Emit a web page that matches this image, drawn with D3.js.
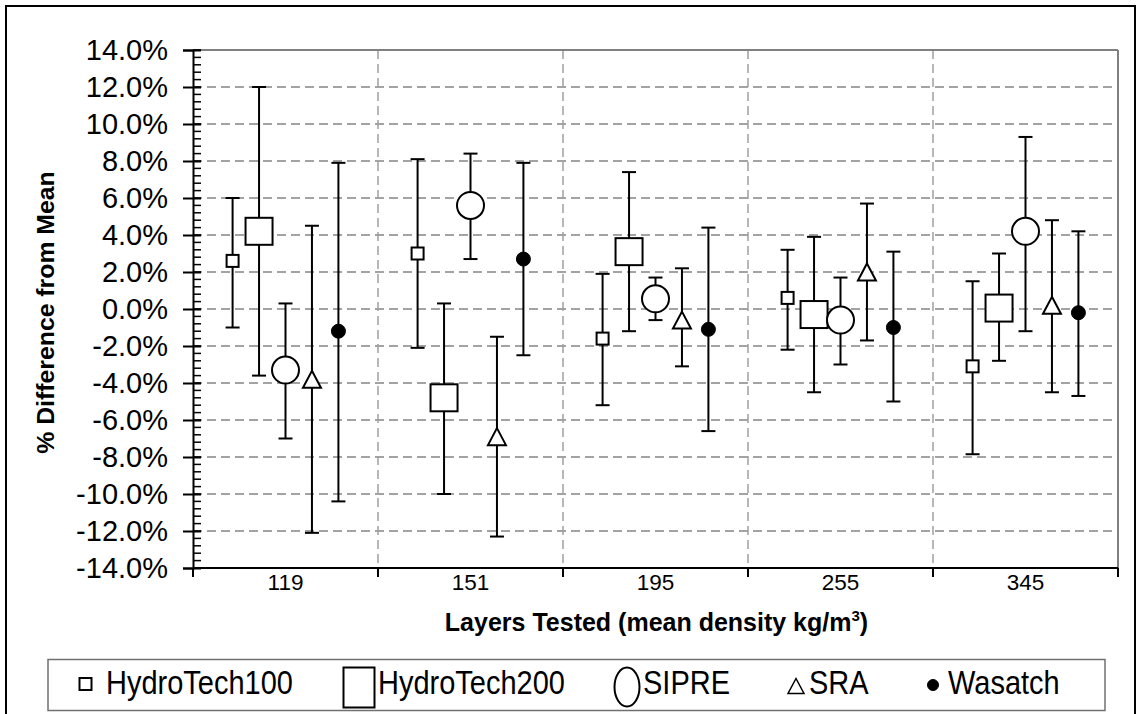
<!DOCTYPE html>
<html>
<head>
<meta charset="utf-8">
<script src="https://cdn.jsdelivr.net/npm/d3@7/dist/d3.min.js"></script>
<style>
  html, body { margin: 0; padding: 0; background: #fff; }
  svg { display: block; font-family: "Liberation Sans", Arial, sans-serif; }
</style>
</head>
<body>
<svg id="chart" width="1138" height="714"></svg>
<script>
// ---------- data ----------
const categories = ["119", "151", "195", "255", "345"];
const seriesNames = ["HydroTech100", "HydroTech200", "SIPRE", "SRA", "Wasatch"];

const ht100Mean = [2.6, 3.0, -1.6, 0.6, -3.1];
const ht100Hi   = [6.0, 8.1, 1.9, 3.2, 1.5];
const ht100Lo   = [-1.0, -2.1, -5.2, -2.2, -7.85];

const ht200Mean = [4.2, -4.8, 3.1, -0.3, 0.05];
const ht200Hi   = [12.0, 0.3, 7.4, 3.9, 3.0];
const ht200Lo   = [-3.6, -10.0, -1.2, -4.5, -2.8];

const sipreMean = [-3.3, 5.6, 0.55, -0.6, 4.2];
const sipreHi   = [0.3, 8.4, 1.7, 1.7, 9.3];
const sipreLo   = [-7.0, 2.7, -0.6, -3.0, -1.2];

const sraMean = [-3.8, -6.9, -0.6, 2.0, 0.2];
const sraHi   = [4.5, -1.5, 2.2, 5.7, 4.8];
const sraLo   = [-12.1, -12.3, -3.1, -1.7, -4.5];

const wasMean = [-1.2, 2.7, -1.1, -1.0, -0.2];
const wasHi   = [7.9, 7.9, 4.4, 3.1, 4.2];
const wasLo   = [-10.4, -2.5, -6.6, -5.0, -4.7];

const yTickValues = [-14, -12, -10, -8, -6, -4, -2, 0, 2, 4, 6, 8, 10, 12, 14];

const seriesData = [
  { name: seriesNames[0], mean: ht100Mean, hi: ht100Hi, lo: ht100Lo, shape: "smallSquare" },
  { name: seriesNames[1], mean: ht200Mean, hi: ht200Hi, lo: ht200Lo, shape: "bigSquare" },
  { name: seriesNames[2], mean: sipreMean, hi: sipreHi, lo: sipreLo, shape: "circle" },
  { name: seriesNames[3], mean: sraMean,   hi: sraHi,   lo: sraLo,   shape: "triangle" },
  { name: seriesNames[4], mean: wasMean,   hi: wasHi,   lo: wasLo,   shape: "dot" }
];

// ---------- layout ----------
const svg = d3.select("#chart");
const plot = { left: 193, right: 1118, top: 50, bottom: 568 };

svg.append("rect").attr("x", 0).attr("y", 0).attr("width", 1138).attr("height", 714).attr("fill", "#fff");
// outer frame
svg.append("rect").attr("x", 6).attr("y", 6).attr("width", 1129).attr("height", 730)
  .attr("fill", "none").attr("stroke", "#000").attr("stroke-width", 2);

const y = d3.scaleLinear().domain([-14, 14]).range([plot.bottom, plot.top]);
const x = d3.scaleBand().domain(categories).range([plot.left, plot.right]).padding(0);
const xs = d3.scalePoint().domain(seriesNames)
  .range([x.bandwidth() * 0.214, x.bandwidth() * 0.786]);

// gridlines
const grid = svg.append("g");
grid.selectAll("line.h").data(yTickValues.filter(v => v > -14 && v < 14)).enter()
  .append("line")
  .attr("x1", plot.left).attr("x2", plot.right)
  .attr("y1", d => y(d)).attr("y2", d => y(d))
  .attr("stroke", "#858585").attr("stroke-width", 1.5).attr("stroke-dasharray", "9,5");
grid.selectAll("line.v").data(categories.slice(1)).enter()
  .append("line")
  .attr("x1", d => x(d)).attr("x2", d => x(d))
  .attr("y1", plot.top).attr("y2", plot.bottom)
  .attr("stroke", "#a0a0a0").attr("stroke-width", 1.5).attr("stroke-dasharray", "9,5");

// plot frame top/right
svg.append("line").attr("x1", plot.left).attr("x2", plot.right).attr("y1", plot.top).attr("y2", plot.top)
  .attr("stroke", "#808080").attr("stroke-width", 2);
svg.append("line").attr("x1", plot.right).attr("x2", plot.right).attr("y1", plot.top).attr("y2", plot.bottom)
  .attr("stroke", "#808080").attr("stroke-width", 2);

// y axis
const yAxis = d3.axisLeft(y).tickValues(yTickValues)
  .tickFormat(d => d.toFixed(1) + "%").tickSize(10).tickPadding(15);
const gy = svg.append("g").attr("transform", `translate(${plot.left},0)`).call(yAxis);
gy.select(".domain").attr("stroke", "#000").attr("stroke-width", 2);
gy.selectAll(".tick line").attr("stroke", "#000").attr("stroke-width", 2).attr("x2", -10).attr("x1", 8);
gy.selectAll(".tick text").attr("font-size", 29).attr("fill", "#000")
  .attr("font-family", "'Liberation Sans', Arial, sans-serif");
// minor ticks
const minor = d3.range(-140, 141, 4).map(v => v / 10);
svg.append("g").selectAll("line").data(minor).enter().append("line")
  .attr("x1", plot.left).attr("x2", plot.left + 8)
  .attr("y1", d => y(d)).attr("y2", d => y(d))
  .attr("stroke", "#000").attr("stroke-width", 1.5);

// x axis
svg.append("line").attr("x1", plot.left).attr("x2", plot.right)
  .attr("y1", plot.bottom).attr("y2", plot.bottom).attr("stroke", "#000").attr("stroke-width", 2);
const boundaries = categories.map(c => x(c)).concat([x(categories[categories.length - 1]) + x.bandwidth()]);
svg.append("g").selectAll("line").data(boundaries).enter().append("line")
  .attr("x1", d => d).attr("x2", d => d)
  .attr("y1", plot.bottom).attr("y2", plot.bottom + 9)
  .attr("stroke", "#000").attr("stroke-width", 2);
svg.append("g").selectAll("text").data(categories).enter().append("text")
  .attr("x", d => x(d) + x.bandwidth() / 2).attr("y", 589.5)
  .attr("text-anchor", "middle").attr("font-size", 22.5).text(d => d);

// axis titles
const xt = svg.append("text").attr("x", (plot.left + plot.right) / 2 + 1).attr("y", 630.5)
  .attr("text-anchor", "middle").attr("font-size", 25).attr("font-weight", "bold");
xt.append("tspan").text("Layers Tested (mean density kg/m");
xt.append("tspan").attr("font-size", 15).attr("dy", -10).text("3");
xt.append("tspan").attr("dy", 10).text(")");

svg.append("text")
  .attr("transform", `translate(53.5, 312.5) rotate(-90)`)
  .attr("text-anchor", "middle").attr("font-size", 24.8).attr("font-weight", "bold")
  .text("% Difference from Mean");

// ---------- marks ----------
function drawMarker(g, shape, cx, cy, legend) {
  if (shape === "smallSquare") {
    g.append("rect").attr("x", cx - 6).attr("y", cy - 6).attr("width", 12).attr("height", 12)
      .attr("fill", "#fff").attr("stroke", "#000").attr("stroke-width", 2);
  } else if (shape === "bigSquare") {
    const w = legend ? 31 : 27, h = legend ? 40 : 27;
    g.append("rect").attr("x", cx - w / 2).attr("y", cy - h / 2).attr("width", w).attr("height", h)
      .attr("fill", "#fff").attr("stroke", "#000").attr("stroke-width", 2);
  } else if (shape === "circle") {
    if (legend) {
      g.append("ellipse").attr("cx", cx).attr("cy", cy).attr("rx", 12.5).attr("ry", 19.5)
        .attr("fill", "#fff").attr("stroke", "#000").attr("stroke-width", 2);
    } else {
      g.append("circle").attr("cx", cx).attr("cy", cy).attr("r", 13.5)
        .attr("fill", "#fff").attr("stroke", "#000").attr("stroke-width", 2);
    }
  } else if (shape === "triangle") {
    const hw = legend ? 8 : 9, hh = legend ? 7.5 : 8.5;
    g.append("path")
      .attr("d", `M${cx},${cy - hh}L${cx + hw},${cy + hh}L${cx - hw},${cy + hh}Z`)
      .attr("fill", "#fff").attr("stroke", "#000").attr("stroke-width", legend ? 1.5 : 2);
  } else if (shape === "dot") {
    g.append("circle").attr("cx", cx).attr("cy", cy).attr("r", legend ? 5.5 : 7)
      .attr("fill", "#000").attr("stroke", "#000").attr("stroke-width", 1);
  }
}

const marks = svg.append("g");
seriesData.forEach(s => {
  categories.forEach((c, i) => {
    const cx = x(c) + xs(s.name);
    const g = marks.append("g");
    g.append("line").attr("x1", cx).attr("x2", cx)
      .attr("y1", y(s.lo[i])).attr("y2", y(s.hi[i]))
      .attr("stroke", "#000").attr("stroke-width", 2);
    [s.lo[i], s.hi[i]].forEach(v => {
      g.append("line").attr("x1", cx - 7).attr("x2", cx + 7)
        .attr("y1", y(v)).attr("y2", y(v))
        .attr("stroke", "#000").attr("stroke-width", 2);
    });
  });
});
seriesData.forEach(s => {
  categories.forEach((c, i) => {
    drawMarker(marks, s.shape, x(c) + xs(s.name), y(s.mean[i]), false);
  });
});

// ---------- legend ----------
const lg = svg.append("g");
lg.append("rect").attr("x", 48).attr("y", 659.5).attr("width", 1057).attr("height", 51)
  .attr("fill", "#fff").attr("stroke", "#707070").attr("stroke-width", 1.5);
const legendItems = [
  { i: 0, mx: 85.5, my: 684, tx: 106 },
  { i: 1, mx: 359, my: 687.5, tx: 378 },
  { i: 2, mx: 627, my: 687, tx: 643 },
  { i: 3, mx: 796, my: 686, tx: 809 },
  { i: 4, mx: 933, my: 685, tx: 948 }
];
legendItems.forEach(it => {
  const s = seriesData[it.i];
  drawMarker(lg, s.shape, it.mx, it.my, true);
  lg.append("text")
    .attr("transform", `translate(${it.tx},693.5) scale(1,1.15)`)
    .attr("font-size", 29).text(s.name);
});
</script>
</body>
</html>
